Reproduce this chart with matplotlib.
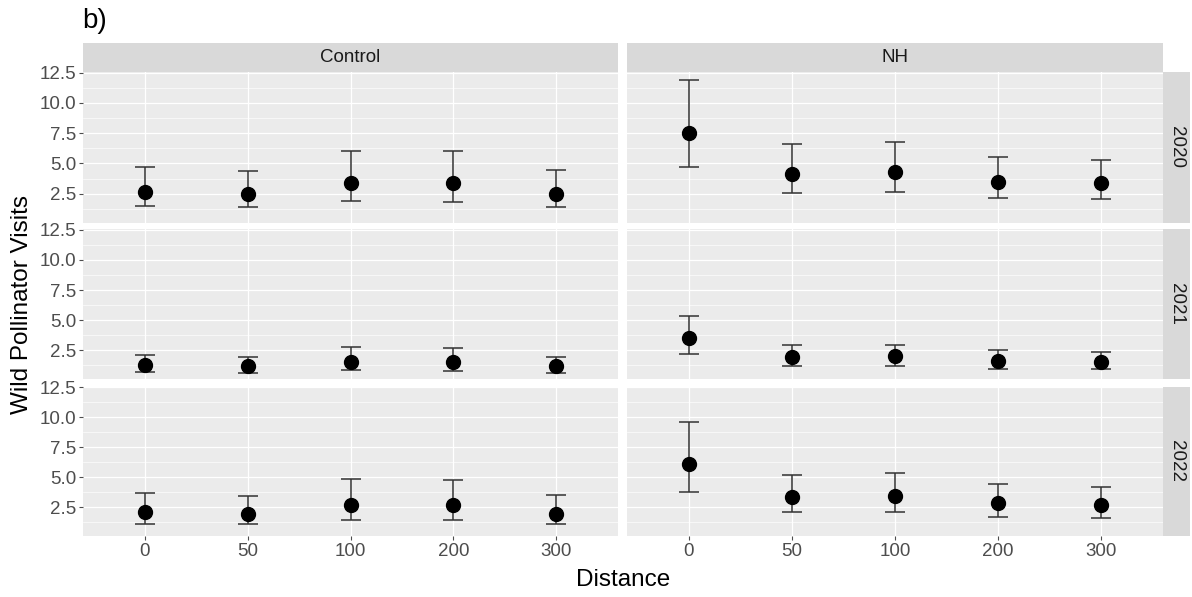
import numpy as np
import matplotlib
matplotlib.use("Agg")
import matplotlib.pyplot as plt
from matplotlib.ticker import FixedLocator

plt.rcParams["font.family"] = ["Liberation Sans", "DejaVu Sans"]

# data
distances = ["0", "50", "100", "200", "300"]
treatments = ["Control", "NH"]
years = ["2020", "2021", "2022"]

control_2020_mean = [2.66, 2.50, 3.41, 3.35, 2.50]
control_2020_low = [1.49, 1.40, 1.92, 1.84, 1.40]
control_2020_high = [4.70, 4.40, 6.07, 6.00, 4.48]

nh_2020_mean = [7.50, 4.12, 4.26, 3.49, 3.35]
nh_2020_low = [4.70, 2.56, 2.64, 2.15, 2.06]
nh_2020_high = [11.92, 6.62, 6.76, 5.55, 5.30]

control_2021_mean = [1.24, 1.18, 1.57, 1.57, 1.18]
control_2021_low = [0.66, 0.64, 0.89, 0.80, 0.64]
control_2021_high = [2.12, 1.98, 2.75, 2.67, 1.98]

nh_2021_mean = [3.49, 1.96, 1.99, 1.60, 1.52]
nh_2021_low = [2.20, 1.18, 1.18, 0.97, 0.94]
nh_2021_high = [5.36, 2.97, 2.97, 2.53, 2.37]

control_2022_mean = [2.13, 1.97, 2.72, 2.66, 1.97]
control_2022_low = [1.13, 1.08, 1.47, 1.47, 1.08]
control_2022_high = [3.72, 3.47, 4.83, 4.75, 3.55]

nh_2022_mean = [6.08, 3.38, 3.47, 2.83, 2.67]
nh_2022_low = [3.80, 2.08, 2.08, 1.72, 1.61]
nh_2022_high = [9.61, 5.19, 5.36, 4.42, 4.19]

panels = {
    ("2020", "Control"): (control_2020_mean, control_2020_low, control_2020_high),
    ("2020", "NH"): (nh_2020_mean, nh_2020_low, nh_2020_high),
    ("2021", "Control"): (control_2021_mean, control_2021_low, control_2021_high),
    ("2021", "NH"): (nh_2021_mean, nh_2021_low, nh_2021_high),
    ("2022", "Control"): (control_2022_mean, control_2022_low, control_2022_high),
    ("2022", "NH"): (nh_2022_mean, nh_2022_low, nh_2022_high),
}

W, H = 1192, 597
fig = plt.figure(figsize=(W / 100, H / 100), dpi=100)


def px_box(x0, y0, x1, y1):
    # pixel box (top-left origin) -> figure fraction rect
    return [x0 / W, 1 - y1 / H, (x1 - x0) / W, (y1 - y0) / H]


col_x = [(83, 618), (627, 1163)]
row_y = [(72, 222.5), (229, 379), (386.5, 536)]
strip_top = (43, 72)
strip_right = (1163, 1190)

panel_bg = "#EBEBEB"
strip_bg = "#D9D9D9"
tick_col = "#4D4D4D"
err_col = "#333333"

x = np.arange(len(distances))

for r, year in enumerate(years):
    for c, trt in enumerate(treatments):
        ax = fig.add_axes(px_box(col_x[c][0], row_y[r][0], col_x[c][1], row_y[r][1]))
        ax.set_facecolor(panel_bg)
        for s in ax.spines.values():
            s.set_visible(False)
        mean, low, high = panels[(year, trt)]
        mean = np.array(mean)
        yerr = [mean - np.array(low), np.array(high) - mean]
        ax.errorbar(x, mean, yerr=yerr, fmt="none", ecolor=err_col,
                    elinewidth=1.1, capsize=7, capthick=1.1, zorder=3)
        ax.plot(x, mean, "o", color="black", markersize=10, zorder=4)
        ax.set_xlim(-0.6, len(distances) - 0.4)
        ax.set_ylim(0.12, 12.56)
        ax.yaxis.set_major_locator(FixedLocator([2.5, 5.0, 7.5, 10.0, 12.5]))
        ax.yaxis.set_minor_locator(FixedLocator([1.25, 3.75, 6.25, 8.75, 11.25]))
        ax.set_xticks(x)
        ax.grid(True, which="major", color="white", linewidth=0.9, zorder=0)
        ax.grid(True, which="minor", axis="y", color="white", linewidth=0.45, zorder=0)
        ax.set_axisbelow(True)
        ax.tick_params(axis="both", which="major", color=tick_col, length=3,
                       width=0.8, labelcolor=tick_col, labelsize=13.5, pad=2)
        ax.tick_params(axis="y", which="minor", length=0)
        if c == 0:
            ax.set_yticklabels(["2.5", "5.0", "7.5", "10.0", "12.5"])
        else:
            ax.tick_params(axis="y", which="major", length=0, labelleft=False)
        if r == len(years) - 1:
            ax.set_xticklabels(distances)
        else:
            ax.tick_params(axis="x", length=0, labelbottom=False)

        # column strip
        if r == 0:
            sax = fig.add_axes(px_box(col_x[c][0], strip_top[0], col_x[c][1], strip_top[1]))
            sax.set_facecolor(strip_bg)
            sax.set_xticks([])
            sax.set_yticks([])
            for s in sax.spines.values():
                s.set_visible(False)
            sax.text(0.5, 0.5, trt, ha="center", va="center", fontsize=13.5,
                     color="#1A1A1A", transform=sax.transAxes)

    # row strip
    rax = fig.add_axes(px_box(strip_right[0], row_y[r][0], strip_right[1], row_y[r][1]))
    rax.set_facecolor(strip_bg)
    rax.set_xticks([])
    rax.set_yticks([])
    for s in rax.spines.values():
        s.set_visible(False)
    rax.text(0.5, 0.5, year, ha="center", va="center", rotation=-90, fontsize=13.5,
             color="#1A1A1A", transform=rax.transAxes)

fig.text(623 / W, 1 - 580 / H, "Distance", ha="center", va="center", fontsize=17.5, color="black")
fig.text(22 / W, 1 - 304 / H, "Wild Pollinator Visits", ha="center", va="center",
         rotation=90, fontsize=17.5, color="black")
fig.text(82 / W, 1 - 21 / H, "b)", ha="left", va="center", fontsize=20, color="black")

fig.savefig("out.png", dpi=100, facecolor="white")
